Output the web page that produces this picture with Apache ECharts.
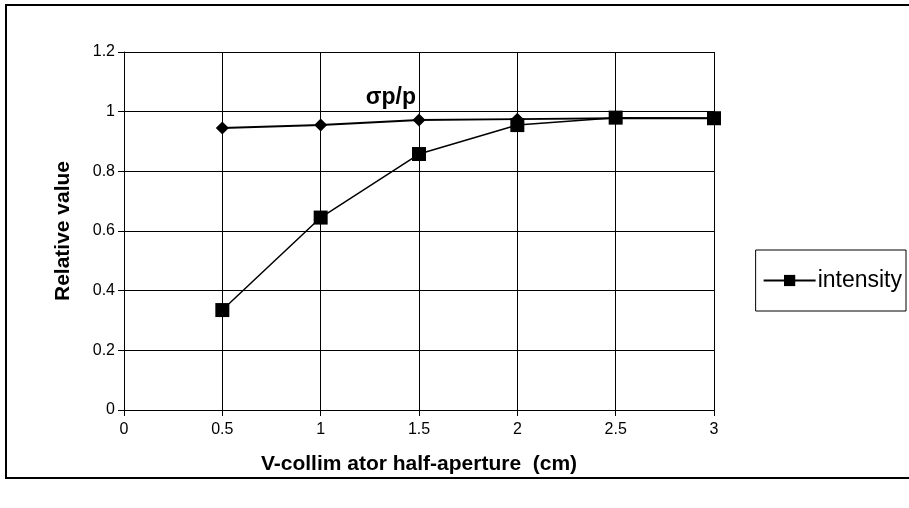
<!DOCTYPE html>
<html><head><meta charset="utf-8">
<script src="https://cdn.jsdelivr.net/npm/echarts@6/dist/echarts.min.js"></script>
<style>html,body{margin:0;padding:0;background:#fff}#c{width:909px;height:508px}</style>
</head><body><div id="c"></div>
<script>
const xValues = [0.5, 1, 1.5, 2, 2.5, 3];
const sigmaValues = [0.945, 0.955, 0.972, 0.975, 0.978, 0.978];
const intensityValues = [0.335, 0.645, 0.858, 0.955, 0.980, 0.978];
const xTicks = [0, 0.5, 1, 1.5, 2, 2.5, 3];
const yTicks = [0, 0.2, 0.4, 0.6, 0.8, 1, 1.2];
const annotationText = 'σp/p';
const annotationAnchor = [1.5, 1.0];

const chart = echarts.init(document.getElementById('c'), null, {renderer: 'canvas'});
const font = '"Liberation Sans", Arial, sans-serif';
chart.setOption({
  backgroundColor: '#fff',
  animation: false,
  textStyle: {fontFamily: font, color: '#000'},
  grid: {left: 124, right: 195, top: 52, bottom: 98, show: false},
  legend: {
    show: true,
    data: [{name: 'intensity'}],
    right: 3, top: 250,
    orient: 'vertical',
    padding: [19, 4, 19, 7],
    borderColor: '#000', borderWidth: 1,
    backgroundColor: '#fff',
    itemWidth: 52, itemHeight: 14,
    itemGap: 0,
    textStyle: {fontFamily: font, fontSize: 23, color: '#000', padding: [0, 0, 0, -3]},
  },
  xAxis: {
    type: 'value', min: 0, max: 3, interval: 0.5,
    name: 'V-collim ator half-aperture  (cm)',
    nameLocation: 'middle', nameGap: 44,
    nameTextStyle: {fontFamily: font, fontSize: 21, fontWeight: 'bold', color: '#000'},
    axisLine: {show: true, onZero: false, lineStyle: {color: '#000', width: 1}},
    axisTick: {show: true, length: 6, inside: false, lineStyle: {color: '#000'}},
    axisLabel: {fontFamily: font, fontSize: 16, color: '#000', margin: 12, formatter: v => String(v)},
    splitLine: {show: true, lineStyle: {color: '#000', width: 1}}
  },
  yAxis: {
    type: 'value', min: 0, max: 1.2, interval: 0.2,
    name: 'Relative value',
    nameLocation: 'middle', nameGap: 50,
    nameTextStyle: {fontFamily: font, fontSize: 21, fontWeight: 'bold', color: '#000'},
    axisLine: {show: true, lineStyle: {color: '#000', width: 1}},
    axisTick: {show: true, length: 6, inside: false, lineStyle: {color: '#000'}},
    axisLabel: {fontFamily: font, fontSize: 16, color: '#000', margin: 9, formatter: v => String(Math.round(v*10)/10)},
    splitLine: {show: true, lineStyle: {color: '#000', width: 1}}
  },
  series: [
    {
      name: 'sigma', type: 'line',
      data: xValues.map((x, i) => [x, sigmaValues[i]]),
      symbol: 'diamond', symbolSize: 13, showSymbol: true,
      lineStyle: {color: '#000', width: 2},
      itemStyle: {color: '#000'}, z: 3
    },
    {
      name: 'intensity', type: 'line',
      data: xValues.map((x, i) => [x, intensityValues[i]]),
      symbol: 'rect', symbolSize: 14, showSymbol: true,
      lineStyle: {color: '#000', width: 1.5},
      itemStyle: {color: '#000'}, z: 4
    }
  ]
});
const p = chart.convertToPixel({gridIndex: 0}, annotationAnchor);
chart.setOption({
  graphic: [
    {type: 'rect', shape: {x: 6, y: 5, width: 920, height: 473}, style: {fill: 'none', stroke: '#000', lineWidth: 2}, z: -1},
    {type: 'text', x: p[0] - 3, y: p[1] - 3, style: {text: annotationText, font: 'bold 23px ' + font, fill: '#000', align: 'right', verticalAlign: 'bottom'}, z: 10}
  ]
});
</script></body></html>
